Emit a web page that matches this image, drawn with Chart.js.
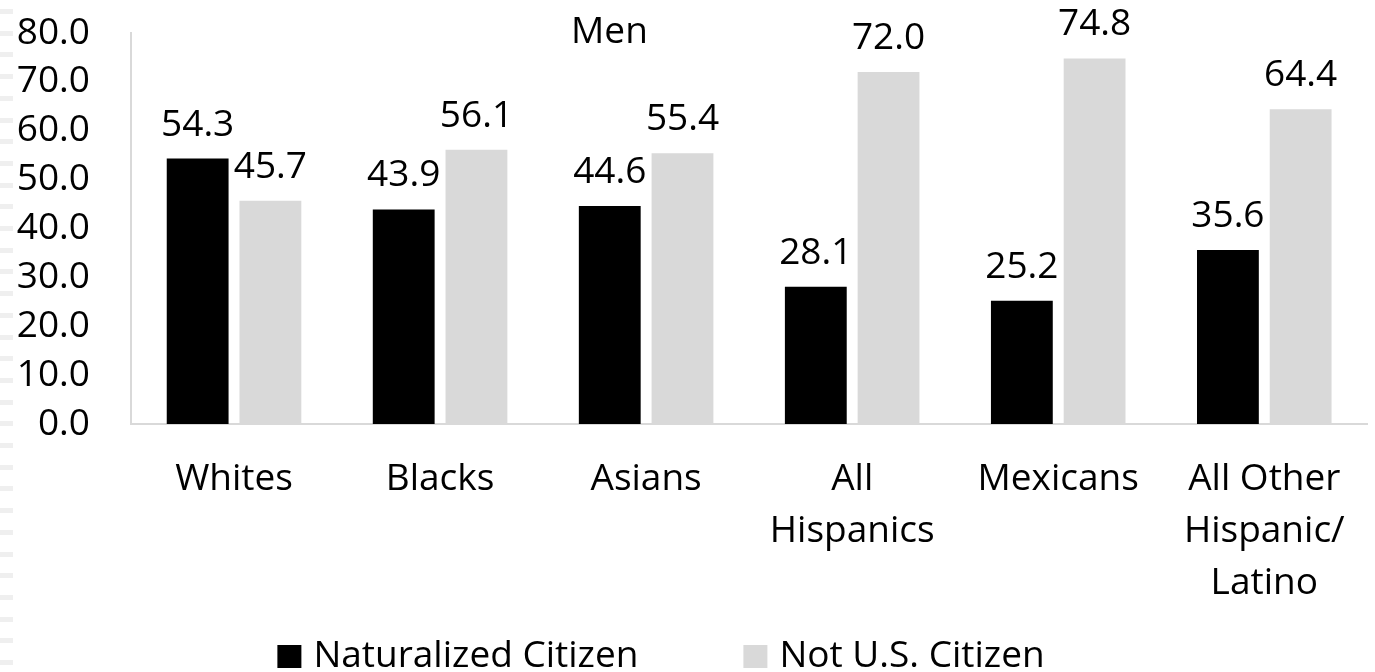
<!DOCTYPE html>
<html>
<head>
<meta charset="utf-8">
<script src="https://cdn.jsdelivr.net/npm/chart.js@4.4.0/dist/chart.umd.min.js"></script>
<style>
  html, body { margin: 0; padding: 0; background: #fff; }
  #wrap { position: relative; width: 1375px; height: 672px; }
  /* faint slide edge on the left */
  #edge {
    position: absolute; left: 0; top: 0; width: 13px; height: 672px;
    background: repeating-linear-gradient(to bottom, transparent 0px, transparent 9px, #efefef 9px, #efefef 14px, transparent 14px, transparent 21.7px);
  }
  canvas { position: absolute; left: 0; top: 0; }
</style>
</head>
<body>
<div id="wrap">
  <div id="edge"></div>
  <canvas id="menChart" width="1375" height="672"></canvas>
</div>
<script>
// categories and values
const categories = ['Whites', 'Blacks', 'Asians', ['All', 'Hispanics'], 'Mexicans', ['All Other', 'Hispanic/', 'Latino']];
const naturalized = [54.3, 43.9, 44.6, 28.1, 25.2, 35.6];
const notCitizen = [45.7, 56.1, 55.4, 72.0, 74.8, 64.4];
const yTicks = [0, 10, 20, 30, 40, 50, 60, 70, 80];
const chartTitle = 'Men';

const FONT = '"Open Sans", "Noto Sans", sans-serif';

// value labels above each bar
const valueLabels = {
    id: 'valueLabels',
    afterDatasetsDraw(chart) {
        const ctx = chart.ctx;
        ctx.save();
        ctx.font = '37px ' + FONT;
        ctx.fillStyle = '#000';
        ctx.textAlign = 'center';
        ctx.textBaseline = 'alphabetic';
        chart.data.datasets.forEach((ds, i) => {
            chart.getDatasetMeta(i).data.forEach((bar, j) => {
                ctx.fillText(ds.data[j].toFixed(1), bar.x, bar.y - 23);
            });
        });
        ctx.restore();
    }
};

// "Men" title sits inside the plot, left of centre
const innerTitle = {
    id: 'innerTitle',
    afterDraw(chart) {
        const a = chart.chartArea;
        const ctx = chart.ctx;
        ctx.save();
        ctx.font = '37px ' + FONT;
        ctx.fillStyle = '#000';
        ctx.textAlign = 'center';
        ctx.textBaseline = 'alphabetic';
        ctx.fillText(chartTitle, a.left + (a.right - a.left) * 0.387, 43);
        ctx.restore();
    }
};

// legend drawn by hand so the wide gap between the two items can be kept
const bottomLegend = {
    id: 'bottomLegend',
    afterDraw(chart) {
        const ctx = chart.ctx;
        const sets = chart.data.datasets;
        ctx.save();
        ctx.font = '37px ' + FONT;
        ctx.textBaseline = 'alphabetic';
        ctx.textAlign = 'left';
        const box = 24, boxGap = 12, itemGap = 105;
        const widths = sets.map(ds => ctx.measureText(ds.label).width);
        let total = 0;
        widths.forEach((w, i) => { total += box + boxGap + w + (i < widths.length - 1 ? itemGap : 0); });
        let x = 661 - total / 2;
        const baseline = 667;
        sets.forEach((ds, i) => {
            ctx.fillStyle = ds.backgroundColor;
            ctx.fillRect(x, baseline - 22, box, box - 1);
            x += box + boxGap;
            ctx.fillStyle = '#000';
            ctx.fillText(ds.label, x, baseline);
            x += widths[i] + itemGap;
        });
        ctx.restore();
    }
};

document.addEventListener('DOMContentLoaded', function() {
    const ctx = document.getElementById('menChart').getContext('2d');
    new Chart(ctx, {
        type: 'bar',
        data: {
            labels: categories,
            datasets: [{
                label: 'Naturalized Citizen',
                data: naturalized,
                backgroundColor: '#000000',
                categoryPercentage: 0.706,
                barPercentage: 0.85
            },
            {
                label: 'Not U.S. Citizen',
                data: notCitizen,
                backgroundColor: '#d9d9d9',
                categoryPercentage: 0.706,
                barPercentage: 0.85
            }]
        },
        options: {
            responsive: false,
            devicePixelRatio: 1,
            animation: false,
            layout: {
                padding: { top: 33, right: 4, bottom: 48, left: 0 }
            },
            scales: {
                x: {
                    grid: { display: false, drawTicks: false },
                    border: { display: true, color: '#d9d9d9', width: 2 },
                    ticks: {
                        color: '#000',
                        font: { family: FONT, size: 37, lineHeight: 1.4 },
                        padding: 30,
                        autoSkip: false,
                        maxRotation: 0
                    },
                    afterFit(scale) { scale.height = 200; }
                },
                y: {
                    min: 0,
                    max: 80,
                    afterBuildTicks(scale) { scale.ticks = yTicks.map(v => ({ value: v })); },
                    grid: { display: false, drawTicks: false },
                    border: { display: true, color: '#d9d9d9', width: 2 },
                    ticks: {
                        color: '#000',
                        font: { family: FONT, size: 37 },
                        padding: 41,
                        autoSkip: false,
                        callback: v => Number(v).toFixed(1)
                    },
                    afterFit(scale) {
                        scale.width = 131;
                        scale.paddingTop = 0;
                        scale.paddingBottom = 0;
                    }
                }
            },
            plugins: {
                legend: { display: false },
                tooltip: { enabled: false },
                title: { display: false }
            }
        },
        plugins: [valueLabels, innerTitle, bottomLegend]
    });
});
</script>
</body>
</html>
